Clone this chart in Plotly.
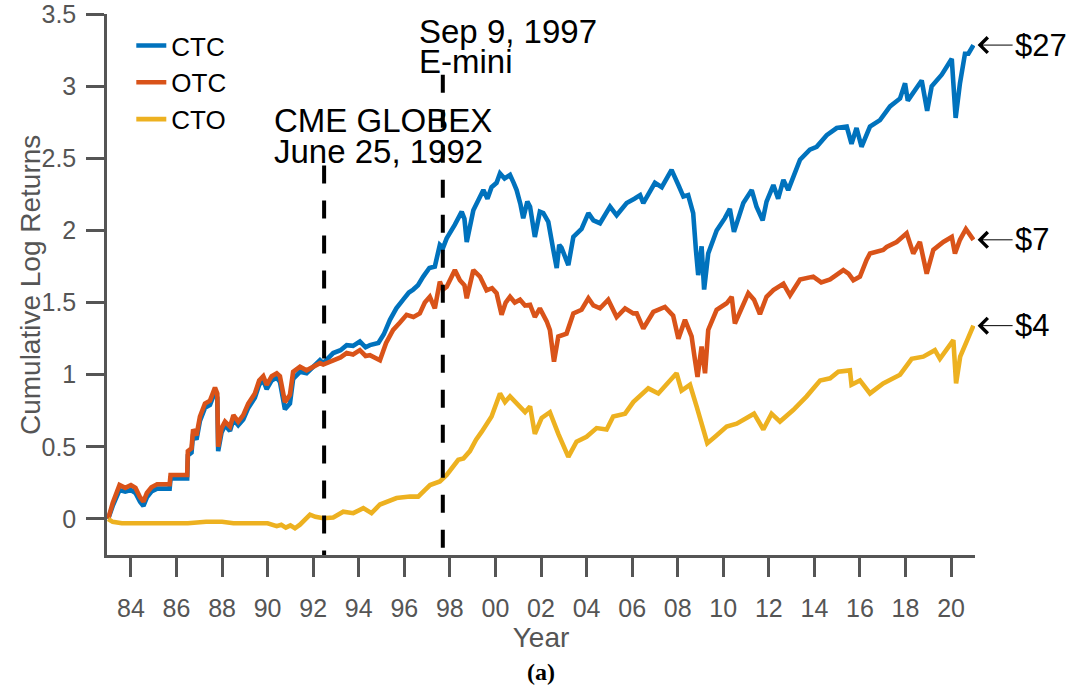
import plotly.graph_objects as go

# ---------------- data ----------------
ctc_years = [1983.0, 1983.2, 1983.5, 1983.75, 1984.0, 1984.2, 1984.4, 1984.55, 1984.7, 1984.9,
             1985.15, 1985.7, 1985.74, 1986.47, 1986.5, 1986.66, 1986.73, 1986.88, 1987.03, 1987.25,
             1987.47, 1987.69, 1987.79, 1987.83, 1987.98, 1988.13, 1988.35, 1988.5, 1988.71, 1988.93,
             1989.15, 1989.44, 1989.63, 1989.81, 1989.96, 1990.18, 1990.4, 1990.54, 1990.76, 1990.98,
             1991.12, 1991.42, 1991.71, 1992.0, 1992.3, 1992.44, 1992.88, 1993.2, 1993.47, 1993.75,
             1994.05, 1994.3, 1994.49, 1994.86, 1995.1, 1995.37, 1995.65, 1995.95, 1996.2, 1996.39,
             1996.6, 1996.83, 1997.1, 1997.34, 1997.56, 1997.7, 1997.86, 1998.22, 1998.52, 1998.64,
             1998.74, 1999.03, 1999.2, 1999.47, 1999.65, 1999.83, 2000.05, 2000.2, 2000.4, 2000.64,
             2000.8, 2000.93, 2001.1, 2001.22, 2001.4, 2001.52, 2001.73, 2001.95, 2002.1, 2002.32,
             2002.54, 2002.69, 2002.8, 2002.9, 2003.1, 2003.2, 2003.42, 2003.78, 2004.08, 2004.3,
             2004.59, 2005.03, 2005.32, 2005.76, 2006.1, 2006.35, 2006.49, 2007.0, 2007.3, 2007.55,
             2007.73, 2008.03, 2008.25, 2008.46, 2008.68, 2008.8, 2008.9, 2009.05, 2009.16, 2009.34,
             2009.71, 2010.07, 2010.29, 2010.47, 2010.88, 2011.25, 2011.46, 2011.73, 2011.9, 2012.2,
             2012.41, 2012.64, 2012.85, 2013.37, 2013.8, 2014.1, 2014.54, 2014.98, 2015.42, 2015.63,
             2015.85, 2016.07, 2016.44, 2016.88, 2017.32, 2017.76, 2017.98, 2018.1, 2018.27, 2018.71,
             2018.95, 2019.15, 2019.59, 2020.03, 2020.2, 2020.39, 2020.61, 2020.76, 2020.98]
ctc_values = [0.0, 0.09, 0.20, 0.19, 0.20, 0.18, 0.12, 0.09, 0.15, 0.19,
              0.21, 0.21, 0.28, 0.28, 0.44, 0.46, 0.59, 0.55, 0.68, 0.77,
              0.79, 0.88, 0.84, 0.47, 0.60, 0.65, 0.61, 0.69, 0.65, 0.69,
              0.77, 0.84, 0.93, 0.96, 0.90, 0.96, 0.98, 0.95, 0.76, 0.80,
              0.97, 1.02, 1.01, 1.06, 1.10, 1.08, 1.15, 1.17, 1.205, 1.20,
              1.23, 1.19, 1.205, 1.22, 1.28, 1.38, 1.46, 1.52, 1.57, 1.59,
              1.62, 1.68, 1.74, 1.75, 1.90, 1.88, 1.945, 2.04, 2.13, 2.08,
              1.92, 2.14, 2.20, 2.28, 2.22, 2.30, 2.33, 2.395, 2.36, 2.385,
              2.33, 2.28, 2.18, 2.085, 2.20, 2.165, 1.955, 2.13, 2.12, 2.06,
              1.865, 1.74, 1.90, 1.88, 1.80, 1.76, 1.955, 2.01, 2.12, 2.07,
              2.05, 2.165, 2.105, 2.19, 2.22, 2.245, 2.19, 2.33, 2.30, 2.38,
              2.42, 2.315, 2.235, 2.245, 2.12, 1.865, 1.69, 1.89, 1.59, 1.84,
              2.00, 2.085, 2.15, 1.99, 2.19, 2.28, 2.165, 2.07, 2.20, 2.315,
              2.22, 2.35, 2.28, 2.49, 2.56, 2.58, 2.66, 2.71, 2.72, 2.60,
              2.71, 2.58, 2.72, 2.765, 2.86, 2.915, 3.02, 2.90, 2.94, 3.04,
              2.83, 3.00, 3.08, 3.19, 2.78, 3.02, 3.225, 3.225, 3.285]

otc_years = [1983.0, 1983.2, 1983.5, 1983.75, 1984.0, 1984.2, 1984.4, 1984.55, 1984.7, 1984.9,
             1985.15, 1985.7, 1985.74, 1986.47, 1986.5, 1986.66, 1986.73, 1986.88, 1987.03, 1987.25,
             1987.47, 1987.69, 1987.79, 1987.83, 1987.98, 1988.13, 1988.35, 1988.5, 1988.71, 1988.93,
             1989.15, 1989.44, 1989.63, 1989.81, 1989.96, 1990.18, 1990.4, 1990.54, 1990.76, 1990.98,
             1991.12, 1991.42, 1991.71, 1992.0, 1992.3, 1992.44, 1992.88, 1993.2, 1993.47, 1993.75,
             1994.05, 1994.3, 1994.49, 1994.93, 1995.2, 1995.51, 1995.8, 1996.1, 1996.4, 1996.68,
             1996.9, 1997.12, 1997.34, 1997.56, 1997.7, 1997.86, 1998.22, 1998.44, 1998.64, 1998.74,
             1999.03, 1999.32, 1999.61, 1999.85, 2000.05, 2000.27, 2000.45, 2000.64, 2000.85, 2001.08,
             2001.3, 2001.52, 2001.73, 2001.95, 2002.25, 2002.39, 2002.57, 2002.76, 2003.12, 2003.42,
             2003.78, 2004.08, 2004.3, 2004.59, 2004.95, 2005.32, 2005.69, 2006.05, 2006.2, 2006.49,
             2006.93, 2007.44, 2007.8, 2008.03, 2008.32, 2008.61, 2008.76, 2008.87, 2009.05, 2009.2,
             2009.34, 2009.71, 2010.15, 2010.37, 2010.51, 2011.1, 2011.35, 2011.61, 2011.9, 2012.2,
             2012.64, 2012.93, 2013.37, 2013.95, 2014.3, 2014.69, 2015.27, 2015.5, 2015.71, 2016.0,
             2016.29, 2016.44, 2017.02, 2017.17, 2017.61, 2018.05, 2018.34, 2018.63, 2018.93, 2019.22,
             2019.66, 2020.03, 2020.17, 2020.39, 2020.65, 2020.98]
otc_values = [0.0, 0.11, 0.235, 0.215, 0.235, 0.215, 0.15, 0.12, 0.18, 0.22,
              0.24, 0.24, 0.305, 0.305, 0.47, 0.49, 0.62, 0.58, 0.71, 0.80,
              0.82, 0.91, 0.87, 0.50, 0.63, 0.675, 0.64, 0.72, 0.675, 0.72,
              0.80, 0.87, 0.96, 0.99, 0.93, 0.99, 1.01, 0.99, 0.81, 0.86,
              1.02, 1.055, 1.03, 1.055, 1.08, 1.07, 1.10, 1.12, 1.15, 1.14,
              1.17, 1.13, 1.135, 1.10, 1.22, 1.31, 1.36, 1.415, 1.40, 1.425,
              1.50, 1.54, 1.46, 1.645, 1.59, 1.61, 1.725, 1.655, 1.62, 1.53,
              1.725, 1.68, 1.585, 1.60, 1.565, 1.415, 1.50, 1.54, 1.50, 1.52,
              1.48, 1.485, 1.40, 1.46, 1.37, 1.31, 1.09, 1.265, 1.285, 1.425,
              1.45, 1.53, 1.48, 1.46, 1.52, 1.40, 1.46, 1.425, 1.425, 1.32,
              1.435, 1.47, 1.41, 1.25, 1.38, 1.265, 1.10, 0.985, 1.195, 1.01,
              1.31, 1.45, 1.495, 1.54, 1.355, 1.565, 1.52, 1.42, 1.54, 1.587,
              1.63, 1.55, 1.66, 1.68, 1.64, 1.66, 1.725, 1.70, 1.655, 1.68,
              1.795, 1.84, 1.865, 1.885, 1.92, 1.98, 1.84, 1.92, 1.70, 1.865,
              1.92, 1.955, 1.84, 1.935, 2.01, 1.935]

cto_years = [1983.0, 1983.2, 1983.6, 1984.5, 1985.5, 1986.5, 1987.3, 1988.0, 1988.5, 1989.5,
             1990.0, 1990.4, 1990.6, 1990.8, 1991.0, 1991.2, 1991.42, 1991.86, 1992.1, 1992.44,
             1992.88, 1993.32, 1993.76, 1994.2, 1994.56, 1994.93, 1995.3, 1995.66, 1996.25, 1996.61,
             1996.9, 1997.13, 1997.56, 1997.86, 1998.37, 1998.6, 1998.88, 1999.15, 1999.4, 1999.83,
             2000.2, 2000.42, 2000.64, 2001.08, 2001.3, 2001.52, 2001.73, 2002.03, 2002.39, 2002.76,
             2003.2, 2003.56, 2004.0, 2004.44, 2004.88, 2005.17, 2005.69, 2006.05, 2006.71, 2007.15,
             2007.52, 2007.95, 2008.17, 2008.54, 2008.83, 2009.12, 2009.3, 2009.64, 2010.15, 2010.59,
             2011.03, 2011.35, 2011.76, 2012.12, 2012.49, 2013.07, 2013.66, 2014.25, 2014.69, 2015.05,
             2015.56, 2015.63, 2016.0, 2016.44, 2017.02, 2017.76, 2018.27, 2018.78, 2019.29, 2019.51,
             2020.1, 2020.22, 2020.4, 2020.68, 2020.98]
cto_values = [0.0, -0.02, -0.03, -0.03, -0.03, -0.03, -0.02, -0.02, -0.03, -0.03,
              -0.03, -0.05, -0.04, -0.06, -0.045, -0.065, -0.04, 0.03, 0.015, 0.005,
              0.01, 0.05, 0.04, 0.075, 0.04, 0.10, 0.12, 0.145, 0.155, 0.155,
              0.20, 0.235, 0.26, 0.305, 0.41, 0.42, 0.47, 0.55, 0.605, 0.71,
              0.87, 0.81, 0.85, 0.77, 0.74, 0.78, 0.59, 0.70, 0.74, 0.59,
              0.43, 0.535, 0.57, 0.63, 0.62, 0.71, 0.73, 0.81, 0.905, 0.87,
              0.94, 1.01, 0.89, 0.93, 0.78, 0.62, 0.525, 0.57, 0.64, 0.66,
              0.70, 0.73, 0.62, 0.73, 0.675, 0.755, 0.85, 0.96, 0.975, 1.02,
              1.03, 0.93, 0.96, 0.87, 0.94, 1.00, 1.11, 1.125, 1.17, 1.11,
              1.24, 0.94, 1.125, 1.22, 1.34]

series_names = ["CTC", "OTC", "CTO"]
end_labels = ["$27", "$7", "$4"]

event_years = [1992.48, 1997.69]          # June 25, 1992 ; Sep 9, 1997
event_tops = [2.45, 3.08]
event_labels = [["CME GLOBEX", "June 25, 1992"], ["Sep 9, 1997", "E-mini"]]

x_tick_vals = list(range(1984, 2021, 2))
x_tick_text = ["84", "86", "88", "90", "92", "94", "96", "98", "00", "02",
               "04", "06", "08", "10", "12", "14", "16", "18", "20"]
y_tick_vals = [0, 0.5, 1, 1.5, 2, 2.5, 3, 3.5]
y_tick_text = ["0", "0.5", "1", "1.5", "2", "2.5", "3", "3.5"]

# ---------------- styling ----------------
colors = ["#0072BD", "#D95319", "#EDB120"]
AX = "#555555"
FONT = "Liberation Sans"
x_range = [1982.95, 2021.05]
y_range = [-0.25, 3.5005]

fig = go.Figure()
all_x = [ctc_years, otc_years, cto_years]
all_y = [ctc_values, otc_values, cto_values]
for name, xs, ys, c in zip(series_names, all_x, all_y, colors):
    fig.add_trace(go.Scatter(x=xs, y=ys, mode="lines", name=name,
                             line=dict(color=c, width=4.6)))

for ex, top in zip(event_years, event_tops):
    fig.add_trace(go.Scatter(x=[ex, ex], y=[top, y_range[0]], mode="lines",
                             showlegend=False, hoverinfo="skip",
                             line=dict(color="black", width=4, dash="18px,17px")))

# event text labels
label_pos = [(1990.19, [2.76, 2.55]), (1996.56, [3.38, 3.17])]
annotations = []
for (lx, lys), texts in zip(label_pos, event_labels):
    for ly, t in zip(lys, texts):
        annotations.append(dict(x=lx, y=ly, xref="x", yref="y", text=t, showarrow=False,
                                xanchor="left", yanchor="middle",
                                font=dict(family=FONT, size=33, color="black")))

# end-value arrows
for ys, lab in zip(all_y, end_labels):
    annotations.append(dict(x=1.003, y=ys[-1], xref="paper", yref="y", text=lab,
                            showarrow=True, arrowhead=4, arrowsize=3, arrowwidth=1,
                            arrowcolor="black", ax=35, ay=0, xanchor="left",
                            font=dict(family=FONT, size=31, color="black")))

# axis title (y) and panel label
annotations.append(dict(x=-0.0887, y=0.499, xref="paper", yref="paper",
                        text="Cumulative Log Returns", textangle=-90, showarrow=False,
                        xanchor="center", yanchor="middle",
                        font=dict(family=FONT, size=28, color=AX)))
annotations.append(dict(x=0.5, y=-0.2166, xref="paper", yref="paper", text="<b>(a)</b>",
                        showarrow=False, xanchor="center", yanchor="middle",
                        font=dict(family="Liberation Serif", size=24, color="black")))

fig.update_layout(
    width=1075, height=688,
    margin=dict(l=107, r=100, t=14, b=133, autoexpand=False),
    paper_bgcolor="white", plot_bgcolor="white",
    font=dict(family=FONT, color=AX),
    showlegend=True,
    legend=dict(x=0.028, y=0.985, xanchor="left", yanchor="top",
                bgcolor="rgba(0,0,0,0)", borderwidth=0,
                font=dict(family=FONT, size=26, color="black"),
                tracegroupgap=0),
    annotations=annotations,
    xaxis=dict(range=x_range, tickmode="array", tickvals=x_tick_vals, ticktext=x_tick_text,
               showgrid=False, zeroline=False, showline=True, linecolor=AX, linewidth=2.5,
               ticks="outside", ticklen=19, tickwidth=2.5, tickcolor=AX, automargin=False,
               ticklabelstandoff=10, ticklabeloverflow="allow",
               tickfont=dict(family=FONT, size=25, color=AX),
               title=dict(text="Year", font=dict(family=FONT, size=28, color=AX), standoff=5)),
    yaxis=dict(range=y_range, tickmode="array", tickvals=y_tick_vals, ticktext=y_tick_text,
               showgrid=False, zeroline=False, showline=True, linecolor=AX, linewidth=2.5,
               ticks="outside", ticklen=18, tickwidth=2.5, tickcolor=AX, automargin=False,
               ticklabelstandoff=5, ticklabeloverflow="allow",
               tickfont=dict(family=FONT, size=25, color=AX)),
)

fig.write_html("out.html", config={"displayModeBar": False},
               post_script="document.body.style.margin='0px';")
